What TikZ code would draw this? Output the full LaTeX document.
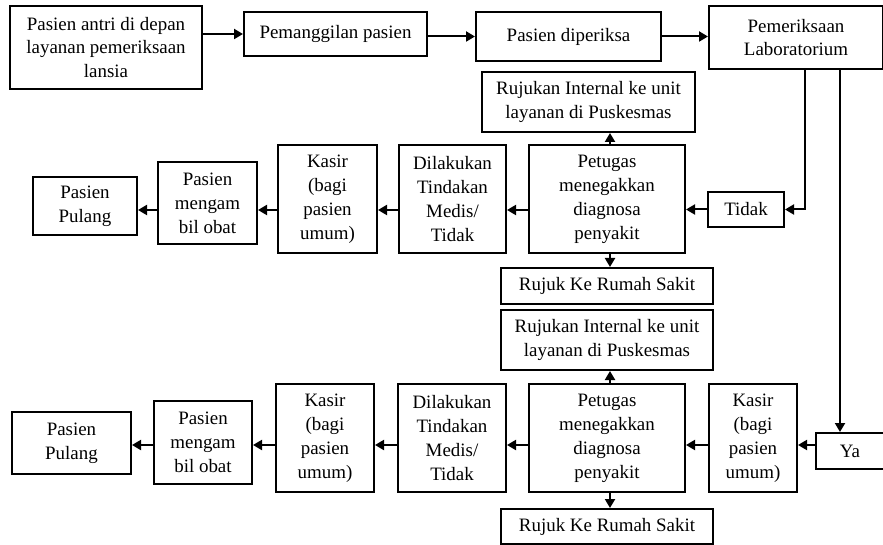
\documentclass[tikz,border=0pt]{standalone}
\usepackage{fontspec}
\setmainfont{Liberation Serif}
\usetikzlibrary{arrows.meta}
\begin{document}
\begin{tikzpicture}[x=1bp,y=-1bp,
  box/.style={draw=black,line width=2bp,rectangle,inner sep=0pt,align=center,
    font=\fontsize{19}{24}\selectfont},
  arr/.style={line width=2bp,-{Triangle[length=9bp,width=10bp]}},
  ln/.style={line width=2bp}]
\useasboundingbox (0,0) rectangle (883,545);
% top row
\node[box,minimum width=192bp,minimum height=83bp] (b1) at (106,47.5) {Pasien antri di depan\\layanan pemeriksaan\\lansia};
\node[box,minimum width=183bp,minimum height=44bp] (b2) at (335.5,34) {Pemanggilan pasien};
\node[box,minimum width=185bp,minimum height=49bp] (b3) at (568.5,36.5) {Pasien diperiksa};
\node[box,minimum width=174bp,minimum height=63bp] (lab) at (796,37.5) {Pemeriksaan\\Laboratorium};
% upper branch
\node[box,minimum width=213bp,minimum height=60bp] (rin1) at (588.5,102) {Rujukan Internal ke unit\\layanan di Puskesmas};
\node[box,minimum width=156bp,minimum height=108bp] (pet1) at (607,199) {Petugas\\menegakkan\\diagnosa\\penyakit};
\node[box,minimum width=212bp,minimum height=36bp] (rrs1) at (607,286) {Rujuk Ke Rumah Sakit};
\node[box,minimum width=76bp,minimum height=35bp] (tidak) at (746,209.5) {Tidak};
\node[box,minimum width=107bp,minimum height=108bp] (dil1) at (452.5,199) {Dilakukan\\Tindakan\\Medis/\\Tidak};
\node[box,minimum width=99bp,minimum height=108bp] (kas1) at (327.5,199) {Kasir\\(bagi\\pasien\\umum)};
\node[box,minimum width=99bp,minimum height=82bp] (amb1) at (207.5,203) {Pasien\\mengam\\bil obat};
\node[box,minimum width=104bp,minimum height=58bp] (pul1) at (85,206) {Pasien\\Pulang};
% lower branch
\node[box,minimum width=212bp,minimum height=60bp] (rin2) at (607,340) {Rujukan Internal ke unit\\layanan di Puskesmas};
\node[box,minimum width=156bp,minimum height=108bp] (pet2) at (607,438) {Petugas\\menegakkan\\diagnosa\\penyakit};
\node[box,minimum width=212bp,minimum height=35bp] (rrs2) at (607,526.5) {Rujuk Ke Rumah Sakit};
\node[box,minimum width=108bp,minimum height=108bp] (dil2) at (452,438) {Dilakukan\\Tindakan\\Medis/\\Tidak};
\node[box,minimum width=98bp,minimum height=108bp] (kas2) at (325,438) {Kasir\\(bagi\\pasien\\umum)};
\node[box,minimum width=98bp,minimum height=83bp] (amb2) at (203,442.5) {Pasien\\mengam\\bil obat};
\node[box,minimum width=119bp,minimum height=62bp] (pul2) at (71.5,443) {Pasien\\Pulang};
\node[box,minimum width=88bp,minimum height=108bp] (kasR) at (753,438) {Kasir\\(bagi\\pasien\\umum)};
\node[box,minimum width=68bp,minimum height=36bp] (ya) at (850,451) {Ya};
% helper coordinates
\coordinate (r1) at (0,210);
\coordinate (r2) at (0,445);
\coordinate (vx) at (610,0);
\coordinate (t1) at (805,0);
\coordinate (y1) at (840,0);
% top connectors
\draw[arr] (b1.east |- b2.west) -- (b2.west);
\draw[arr] (b2.east |- b3.west) -- (b3.west);
\draw[arr] (b3.east) -- (b3.east -| lab.west);
\draw[arr] (lab.south -| t1) |- (tidak.east);
\draw[arr] (lab.south -| y1) -- (ya.north -| y1);
% upper branch connectors
\draw[arr] (tidak.west) -- (tidak.west -| pet1.east);
\draw[arr] (pet1.north -| vx) -- (rin1.south -| vx);
\draw[arr] (pet1.south -| vx) -- (rrs1.north -| vx);
\draw[arr] (pet1.west |- r1) -- (dil1.east |- r1);
\draw[arr] (dil1.west |- r1) -- (kas1.east |- r1);
\draw[arr] (kas1.west |- r1) -- (amb1.east |- r1);
\draw[arr] (amb1.west |- r1) -- (pul1.east |- r1);
% lower branch connectors
\draw[arr] (ya.west |- r2) -- (kasR.east |- r2);
\draw[arr] (kasR.west |- r2) -- (pet2.east |- r2);
\draw[arr] (pet2.north -| vx) -- (rin2.south -| vx);
\draw[arr] (pet2.south -| vx) -- (rrs2.north -| vx);
\draw[arr] (pet2.west |- r2) -- (dil2.east |- r2);
\draw[arr] (dil2.west |- r2) -- (kas2.east |- r2);
\draw[arr] (kas2.west |- r2) -- (amb2.east |- r2);
\draw[arr] (amb2.west |- r2) -- (pul2.east |- r2);
\end{tikzpicture}
\end{document}
